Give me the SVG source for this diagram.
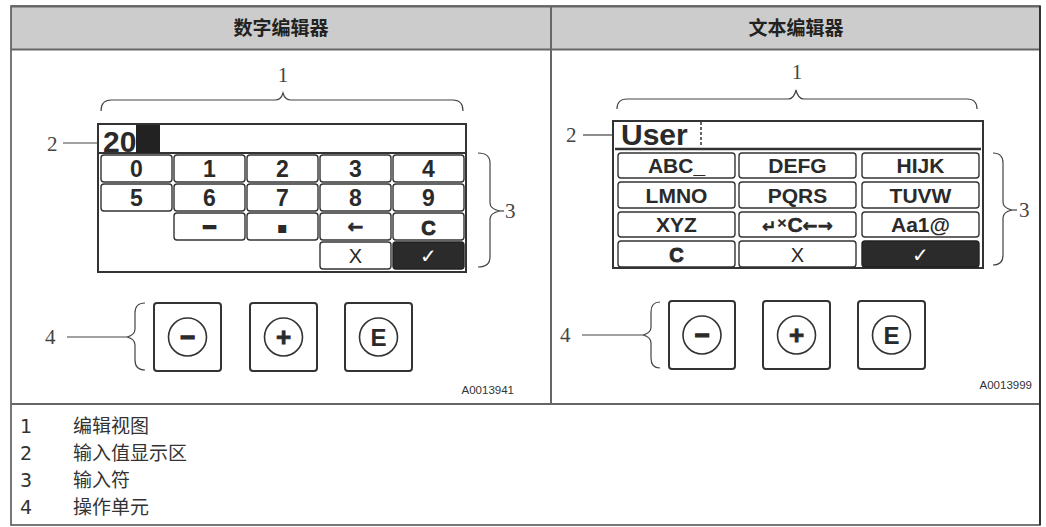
<svg xmlns="http://www.w3.org/2000/svg" width="1046" height="527" viewBox="0 0 1046 527">
<style>
.frame{fill:none;stroke:#555;stroke-width:1.6}
.hdr{fill:#cccccc;stroke:none}
.hline{stroke:#666;stroke-width:2}
.htxt{font-family:"Noto Sans CJK SC","Noto Sans",sans-serif;font-weight:bold;font-size:19px;fill:#222;text-anchor:middle}
.box{fill:#fff;stroke:#333;stroke-width:2}
.key{fill:#fff;stroke:#333;stroke-width:1.4}
.keyb{fill:#2b2b2b;stroke:#222;stroke-width:1.4}
.kt{font-family:"Liberation Sans",Arial,sans-serif;font-weight:bold;font-size:23px;fill:#2a2a2a;text-anchor:middle}
.tt{font-family:"Liberation Sans",Arial,sans-serif;font-weight:bold;font-size:21px;fill:#2a2a2a;text-anchor:middle}
.sym{font-family:"DejaVu Sans",sans-serif;fill:#2a2a2a;text-anchor:middle}
.heavy{stroke:#2a2a2a;stroke-width:1}
.big{font-family:"Liberation Sans",Arial,sans-serif;font-weight:bold;font-size:30px;fill:#2a2a2a}
.lbl{font-family:"Liberation Serif","DejaVu Serif",serif;font-size:21px;fill:#444}
.brace{fill:none;stroke:#444;stroke-width:1.2}
.lead{stroke:#444;stroke-width:1.2}
.btn{fill:#fff;stroke:#333;stroke-width:2}
.circ{fill:none;stroke:#333;stroke-width:1.6}
.bt{font-family:"Liberation Sans",Arial,sans-serif;font-weight:bold;font-size:26px;fill:#2a2a2a;text-anchor:middle}
.code{font-family:"Liberation Sans",Arial,sans-serif;font-size:11.5px;fill:#333;text-anchor:end}
.legn{font-family:"DejaVu Sans","Noto Sans",sans-serif;font-size:19px;fill:#333}
.legt{font-family:"Noto Sans CJK SC","Noto Sans",sans-serif;font-size:19px;fill:#333}
</style>

<g id="frame">
  <rect class="hdr" x="11" y="6" width="1029" height="44"/>
  <rect class="frame" x="11" y="6" width="1029" height="519"/>
  <line class="hline" x1="11" y1="6.5" x2="1040" y2="6.5"/>
  <line class="hline" x1="11" y1="49.5" x2="1040" y2="49.5"/>
  <line class="hline" x1="551" y1="6" x2="551" y2="404"/>
  <line class="hline" x1="11" y1="404" x2="1040" y2="404"/>
  <line x1="1040" y1="6" x2="1040" y2="525" stroke="#222" stroke-width="1.6"/>
  <text class="htxt" x="281" y="35">数字编辑器</text>
  <text class="htxt" x="796" y="35">文本编辑器</text>
</g>

<g id="numeric-editor">
  <rect class="box" x="98" y="124" width="368" height="148"/>
  <line x1="98" y1="153" x2="466" y2="153" stroke="#333" stroke-width="2"/>
  <text class="big" x="103" y="152">20</text>
  <rect x="136" y="125" width="24" height="28" fill="#222"/>
  <g id="num-keys">
    <rect class="key" x="101" y="155" width="71" height="27" rx="3"/>
    <rect class="key" x="174" y="155" width="71" height="27" rx="3"/>
    <rect class="key" x="247" y="155" width="71" height="27" rx="3"/>
    <rect class="key" x="320" y="155" width="71" height="27" rx="3"/>
    <rect class="key" x="393" y="155" width="71" height="27" rx="3"/>
    <rect class="key" x="101" y="184" width="71" height="27" rx="3"/>
    <rect class="key" x="174" y="184" width="71" height="27" rx="3"/>
    <rect class="key" x="247" y="184" width="71" height="27" rx="3"/>
    <rect class="key" x="320" y="184" width="71" height="27" rx="3"/>
    <rect class="key" x="393" y="184" width="71" height="27" rx="3"/>
    <rect class="key" x="174" y="213" width="71" height="27" rx="3"/>
    <rect class="key" x="247" y="213" width="71" height="27" rx="3"/>
    <rect class="key" x="320" y="213" width="71" height="27" rx="3"/>
    <rect class="key" x="393" y="213" width="71" height="27" rx="3"/>
    <rect class="key" x="320" y="242" width="71" height="27" rx="3"/>
    <rect class="keyb" x="393" y="242" width="71" height="27" rx="3"/>
    <text class="kt" x="136.5" y="177">0</text>
    <text class="kt" x="209.5" y="177">1</text>
    <text class="kt" x="282.5" y="177">2</text>
    <text class="kt" x="355.5" y="177">3</text>
    <text class="kt" x="428.5" y="177">4</text>
    <text class="kt" x="136.5" y="206">5</text>
    <text class="kt" x="209.5" y="206">6</text>
    <text class="kt" x="282.5" y="206">7</text>
    <text class="kt" x="355.5" y="206">8</text>
    <text class="kt" x="428.5" y="206">9</text>
    <text class="kt heavy" x="209.5" y="235" style="font-size:24px;stroke-width:1.6">−</text>
    <text class="sym" x="282.5" y="233" style="font-size:16px">▪</text>
    <text class="sym heavy" x="355.5" y="233" style="font-size:19px;font-weight:bold;stroke-width:0.6">←</text>
    <text class="kt heavy" x="428.5" y="235" style="font-size:20px;stroke-width:0.9">C</text>
    <text class="sym" x="355.5" y="263" style="font-family:'Liberation Sans',sans-serif;font-size:20px">X</text>
    <text class="sym" x="428.5" y="263" style="font-size:20px;fill:#fff;font-weight:bold">✓</text>
  </g>
</g>

<g id="text-editor">
  <rect class="box" x="613" y="121" width="370" height="147"/>
  <line x1="615" y1="149" x2="981" y2="149" stroke="#333" stroke-width="2.4"/>
  <text class="big" x="621" y="145">User</text>
  <line x1="701" y1="122" x2="701" y2="147" stroke="#333" stroke-width="1.5" stroke-dasharray="3,2"/>
  <g id="text-keys">
    <rect class="key" x="618" y="153" width="117" height="25" rx="3"/>
    <rect class="key" x="739" y="153" width="117" height="25" rx="3"/>
    <rect class="key" x="862" y="153" width="117" height="25" rx="3"/>
    <rect class="key" x="618" y="182" width="117" height="26" rx="3"/>
    <rect class="key" x="739" y="182" width="117" height="26" rx="3"/>
    <rect class="key" x="862" y="182" width="117" height="26" rx="3"/>
    <rect class="key" x="618" y="212" width="117" height="25" rx="3"/>
    <rect class="key" x="739" y="212" width="117" height="25" rx="3"/>
    <rect class="key" x="862" y="212" width="117" height="25" rx="3"/>
    <rect class="key" x="618" y="241" width="117" height="26" rx="3"/>
    <rect class="key" x="739" y="241" width="117" height="26" rx="3"/>
    <rect class="keyb" x="862" y="241" width="117" height="26" rx="3"/>
    <text class="tt" x="676.5" y="173">ABC_</text>
    <text class="tt" x="797.5" y="173">DEFG</text>
    <text class="tt" x="920.5" y="173">HIJK</text>
    <text class="tt" x="676.5" y="203">LMNO</text>
    <text class="tt" x="797.5" y="203">PQRS</text>
    <text class="tt" x="920.5" y="203">TUVW</text>
    <text class="tt" x="676.5" y="232">XYZ</text>
    <text class="sym heavy" x="797.5" y="232" style="font-weight:bold;font-size:20px;stroke-width:0.5"><tspan style="font-size:17px">↵</tspan><tspan dy="-5" style="font-size:13px">×</tspan><tspan dy="5" style="font-family:'Liberation Sans',sans-serif;font-size:21px">C</tspan><tspan style="font-size:18px">←→</tspan></text>
    <text class="tt" x="920.5" y="232">Aa1@</text>
    <text class="kt heavy" x="676.5" y="262" style="font-size:20px;stroke-width:0.9">C</text>
    <text class="sym" x="797.5" y="262" style="font-family:'Liberation Sans',sans-serif;font-size:20px">X</text>
    <text class="sym" x="920.5" y="262" style="font-size:20px;fill:#fff;font-weight:bold">✓</text>
  </g>
</g>

<g id="buttons-left">
  <rect class="btn" x="154" y="303" width="67" height="68" rx="3"/>
  <circle class="circ" cx="187.5" cy="337" r="19"/>
  <text class="bt heavy" x="187.5" y="346" style="stroke-width:1.2">−</text>
  <rect class="btn" x="250" y="303" width="67" height="68" rx="3"/>
  <circle class="circ" cx="283.5" cy="337" r="19"/>
  <text class="bt heavy" x="283.5" y="346" style="stroke-width:0.8">+</text>
  <rect class="btn" x="345" y="303" width="67" height="68" rx="3"/>
  <circle class="circ" cx="378.5" cy="337" r="19"/>
  <text class="bt" x="378.5" y="346" style="font-size:24px">E</text>
</g>

<g id="buttons-right">
  <rect class="btn" x="669" y="301" width="66" height="68" rx="3"/>
  <circle class="circ" cx="702" cy="335" r="19"/>
  <text class="bt heavy" x="702" y="344" style="stroke-width:1.2">−</text>
  <rect class="btn" x="763" y="301" width="67" height="68" rx="3"/>
  <circle class="circ" cx="796.5" cy="335" r="19"/>
  <text class="bt heavy" x="796.5" y="344" style="stroke-width:0.8">+</text>
  <rect class="btn" x="858" y="301" width="67" height="68" rx="3"/>
  <circle class="circ" cx="891.5" cy="335" r="19"/>
  <text class="bt" x="891.5" y="344" style="font-size:24px">E</text>
</g>

<g id="connectors">
  <path class="brace" d="M101,111 Q101,100 111,100 L275,100 Q281,100 283,93 Q285,100 291,100 L453,100 Q463,100 463,111"/>
  <path class="brace" d="M617,109 Q617,99 627,99 L788,99 Q794,99 796,90 Q798,99 804,99 L967,99 Q977,99 977,109"/>
  <path class="brace" d="M478,153 Q490,153 490,163 L490,203 Q490,209 500,211 Q490,213 490,219 L490,257 Q490,267 478,267"/>
  <line class="lead" x1="500" y1="211" x2="504" y2="211"/>
  <path class="brace" d="M993,153 Q1003,153 1003,163 L1003,202 Q1003,208 1012,210 Q1003,212 1003,218 L1003,255 Q1003,265 993,265"/>
  <line class="lead" x1="1012" y1="210" x2="1017" y2="210"/>
  <path class="brace" d="M145,303 Q135,303 135,313 L135,329 Q135,335 127,337 Q135,339 135,345 L135,360 Q135,370 145,370"/>
  <line class="lead" x1="67" y1="337" x2="127" y2="337"/>
  <path class="brace" d="M660,302 Q651,302 651,312 L651,327 Q651,333 643,335 Q651,337 651,343 L651,358 Q651,368 660,368"/>
  <line class="lead" x1="582" y1="335" x2="643" y2="335"/>
  <line class="lead" x1="63" y1="143" x2="98" y2="143"/>
  <line class="lead" x1="583" y1="135" x2="613" y2="135"/>
</g>

<g id="labels">
  <text class="lbl" x="283" y="82" text-anchor="middle">1</text>
  <text class="lbl" x="797" y="79" text-anchor="middle">1</text>
  <text class="lbl" x="47" y="151">2</text>
  <text class="lbl" x="566" y="142">2</text>
  <text class="lbl" x="505" y="218">3</text>
  <text class="lbl" x="1019" y="217">3</text>
  <text class="lbl" x="45" y="344">4</text>
  <text class="lbl" x="560" y="342">4</text>
  <text class="code" x="514" y="394">A0013941</text>
  <text class="code" x="1032" y="389">A0013999</text>
</g>

<g id="legend">
  <text class="legn" x="20" y="433">1</text>
  <text class="legt" x="73" y="433">编辑视图</text>
  <text class="legn" x="20" y="460">2</text>
  <text class="legt" x="73" y="460">输入值显示区</text>
  <text class="legn" x="20" y="487">3</text>
  <text class="legt" x="73" y="487">输入符</text>
  <text class="legn" x="20" y="514">4</text>
  <text class="legt" x="73" y="514">操作单元</text>
</g>
</svg>
